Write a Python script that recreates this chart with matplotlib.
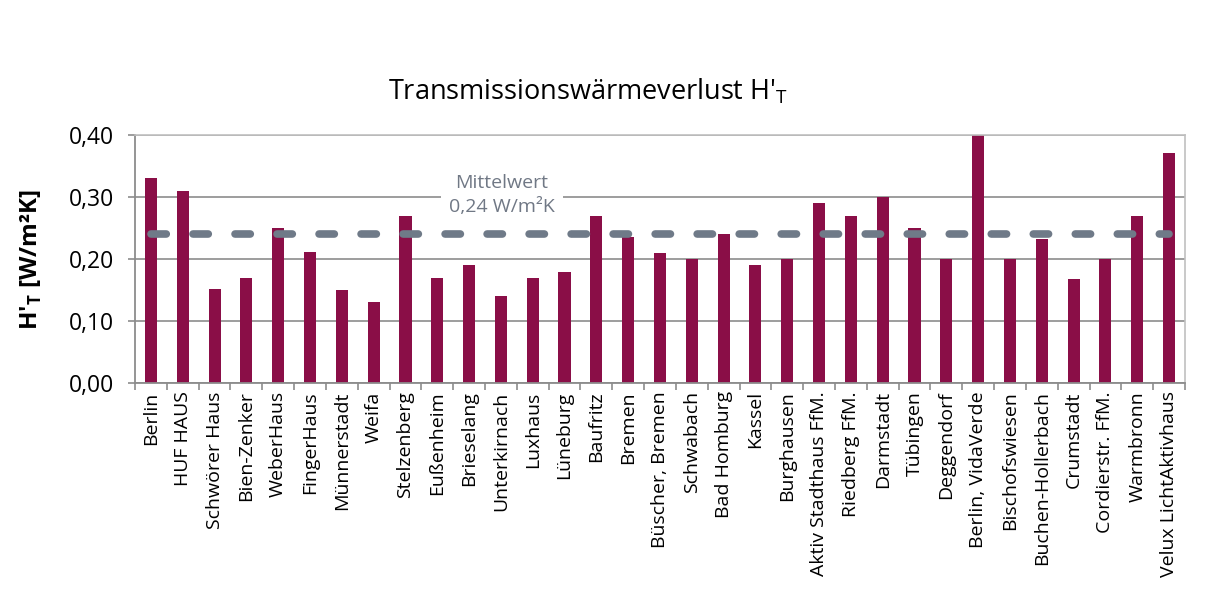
"""Transmissionswärmeverlust H'T – Balkendiagramm"""
import matplotlib.pyplot as plt
import matplotlib as mpl
import numpy as np

# ── Daten ──
orte = ["Berlin", "HUF HAUS", "Schwörer Haus", "Bien-Zenker", "WeberHaus", "FingerHaus",
        "Münnerstadt", "Weifa", "Stelzenberg", "Eußenheim", "Brieselang", "Unterkirnach",
        "Luxhaus", "Lüneburg", "Baufritz", "Bremen", "Büscher, Bremen", "Schwabach",
        "Bad Homburg", "Kassel", "Burghausen", "Aktiv Stadthaus FfM.", "Riedberg FfM.",
        "Darmstadt", "Tübingen", "Deggendorf", "Berlin, VidaVerde", "Bischofswiesen",
        "Buchen-Hollerbach", "Crumstadt", "Cordierstr. FfM.", "Warmbronn",
        "Velux LichtAktivhaus"]
ht = [0.33, 0.31, 0.152, 0.17, 0.25, 0.212, 0.15, 0.131, 0.27, 0.17, 0.191, 0.141,
      0.17, 0.179, 0.27, 0.236, 0.21, 0.20, 0.241, 0.191, 0.20, 0.29, 0.27, 0.30,
      0.25, 0.20, 0.40, 0.20, 0.233, 0.168, 0.20, 0.27, 0.371]
mittelwert = 0.24
y_ticks = [0.0, 0.1, 0.2, 0.3, 0.4]

mpl.rcParams.update({
    "font.family": ["Open Sans", "DejaVu Sans"],
})

fig = plt.figure(figsize=(12.12, 5.94), dpi=100)
ax = fig.add_axes([0.1114, 0.3552, 0.8663, 0.4175])

x = np.arange(len(orte))
ax.bar(x, ht, width=0.38, color="#8A0E47", zorder=2)

# Mittelwert-Linie
ax.plot([x[0], x[-1]], [mittelwert, mittelwert], color="#6F7A88", linewidth=5.5,
        linestyle=(0, (2.0, 3.5)), dash_capstyle="round", zorder=3)
ax.text(11.03, 0.303, "Mittelwert\n0,24 W/m²K", ha="center", va="center", fontsize=14,
        color="#707885", linespacing=1.45, zorder=4,
        bbox=dict(facecolor="white", edgecolor="none", pad=6))

# Achsen
ax.set_xlim(-0.5, len(orte) - 0.5)
ax.set_ylim(0, 0.4)
ax.set_yticks(y_ticks)
ax.set_yticklabels([f"{v:.2f}".replace(".", ",") for v in y_ticks], fontsize=16.5)
ax.yaxis.grid(True, color="#8C8C8C", linewidth=1.2, zorder=0)
ax.set_axisbelow(True)

ax.set_xticks(x)
ax.set_xticklabels(orte, rotation=90, fontsize=14)
ax.set_xticks(np.arange(-0.5, len(orte)), minor=True)
ax.tick_params(axis="x", which="major", length=0, pad=6)
ax.tick_params(axis="x", which="minor", length=5, color="#8C8C8C", width=1.2)
ax.tick_params(axis="y", length=5, color="#8C8C8C", width=1.2, pad=10)

for side in ["left", "bottom"]:
    ax.spines[side].set_color("#8C8C8C")
    ax.spines[side].set_linewidth(1.3)
for side in ["top", "right"]:
    ax.spines[side].set_color("#C0C0C0")
    ax.spines[side].set_linewidth(1.2)

ax.set_ylabel("H'$_\\mathregular{T}$ [W/m²K]", fontsize=17.5, fontweight="bold", labelpad=18)

fig.text(0.485, 0.845, "Transmissionswärmeverlust H'$_\\mathregular{T}$", ha="center",
         va="center", fontsize=19.5)

plt.savefig("out.png", dpi=100)
print("OK")
